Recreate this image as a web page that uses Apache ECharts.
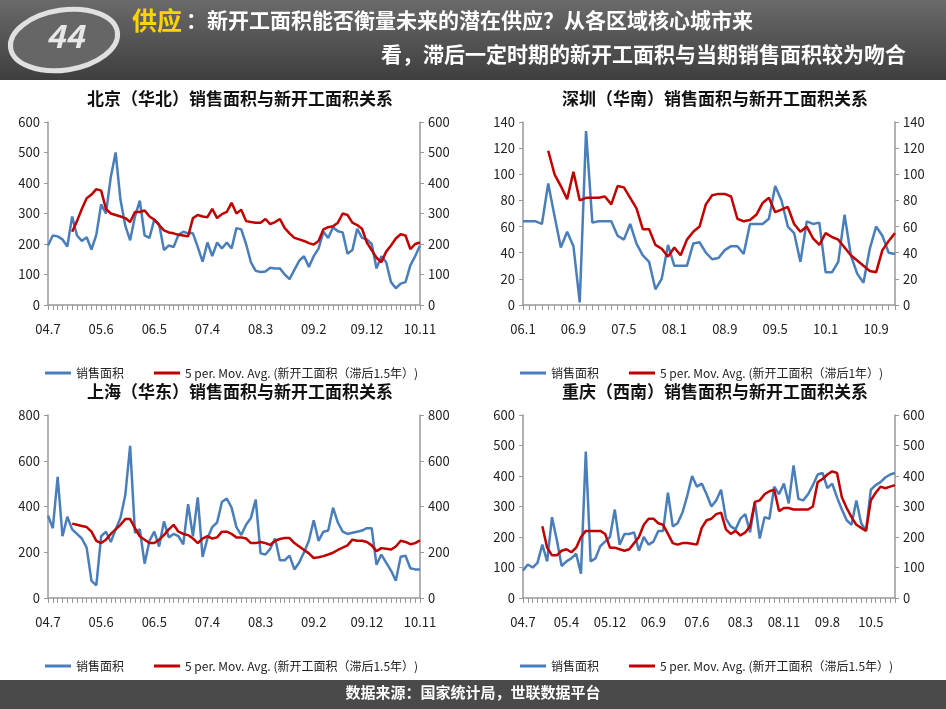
<!DOCTYPE html>
<html><head><meta charset="utf-8">
<script src="https://cdn.jsdelivr.net/npm/echarts@6/dist/echarts.min.js"></script>
<style>html,body{margin:0;padding:0;background:#fff}#c{width:946px;height:709px}</style>
</head><body><div id="c"></div>
<script>
// tick labels (shown every n-th month)
var bjTicks = ['04.7','05.6','06.5','07.4','08.3','09.2','09.12','10.11'];
var szTicks = ['06.1','06.9','07.5','08.1','08.9','09.5','10.1','10.9'];
var cqTicks = ['04.7','05.4','05.12','06.9','07.6','08.3','08.11','09.8','10.5'];

var bjSales = [195,228,225,215,192,290,228,210,222,182,230,330,300,420,500,345,260,212,290,342,228,220,280,265,180,195,190,230,240,235,235,190,142,205,160,205,185,205,185,252,248,200,140,112,108,110,122,120,120,100,85,115,145,160,125,160,185,240,220,255,242,238,168,180,250,220,215,200,120,160,140,75,55,70,75,130,160,195];
var bjStart = [null,null,null,null,null,240,275,315,350,362,380,375,315,300,295,290,285,272,305,305,310,290,280,262,245,238,235,230,228,225,285,295,290,288,315,285,298,305,335,300,312,275,272,270,270,282,265,272,282,252,235,220,215,210,203,198,210,248,255,258,270,300,295,270,262,250,205,180,155,140,175,195,218,232,228,183,200,205];

var szSales = [64,64,64,62,93,68,44,56,45,2,133,63,64,64,64,53,50,62,47,38,33,12,20,46,30,30,30,47,48,40,35,36,42,45,45,39,62,62,62,66,91,80,60,55,33,64,62,63,25,25,33,69,38,24,17,43,60,53,40,39];
var szStart = [null,null,null,null,118,100,91,81,102,80,82,82,82,83,77,91,90,82,74,58,58,46,43,37,44,38,50,56,60,77,84,85,85,83,66,64,65,69,78,82,71,73,75,62,56,60,51,46,55,52,50,44,38,34,30,26,25,42,49,55];

var shSales = [360,305,530,270,355,300,280,260,220,75,55,270,290,245,300,350,450,665,285,300,150,250,290,225,335,265,280,270,235,410,270,440,180,260,310,330,420,435,395,310,275,320,350,430,195,190,215,260,165,165,185,125,155,200,250,340,250,290,295,395,330,290,280,285,290,295,305,305,145,190,155,120,75,180,185,130,125,125];
var shStart = [null,null,null,null,null,325,320,315,310,290,250,240,255,280,300,320,345,345,305,270,255,240,240,255,275,300,320,290,280,275,260,240,260,270,260,265,290,290,280,265,265,260,240,240,245,240,232,250,258,262,262,240,225,210,195,175,178,183,190,198,210,220,230,255,250,250,245,230,205,218,215,212,225,250,245,235,240,252];

var cqSales = [90,110,100,115,175,120,265,190,105,120,130,145,80,480,120,130,170,185,200,290,175,210,210,215,155,200,175,185,220,220,345,235,245,280,335,400,365,375,340,300,320,355,260,235,225,260,275,215,315,195,265,260,365,340,375,310,435,325,320,340,370,405,410,360,375,330,290,255,240,320,245,220,355,370,380,395,405,410];
var cqStart = [null,null,null,null,235,165,140,140,155,160,150,165,200,220,220,220,220,210,165,165,160,155,160,180,200,240,260,260,245,240,210,180,175,180,180,178,175,230,255,260,275,280,225,210,220,205,215,235,315,320,340,350,355,285,295,295,290,290,290,290,300,380,390,405,415,410,330,295,265,240,230,220,320,345,365,360,365,370];

var panels = [
  {title:'北京（华北）销售面积与新开工面积关系', sales:bjSales, start:bjStart, ticks:bjTicks, step:11, max:600, itv:100, lag:'5 per. Mov. Avg. (新开工面积（滞后1.5年）)', l:48, t:122, lx:0, ly:0},
  {title:'深圳（华南）销售面积与新开工面积关系', sales:szSales, start:szStart, ticks:szTicks, step:8, max:140, itv:20, lag:'5 per. Mov. Avg. (新开工面积（滞后1年）)', l:523, t:122, lx:475, ly:0},
  {title:'上海（华东）销售面积与新开工面积关系', sales:shSales, start:shStart, ticks:bjTicks, step:11, max:800, itv:200, lag:'5 per. Mov. Avg. (新开工面积（滞后1.5年）)', l:48, t:415, lx:0, ly:293},
  {title:'重庆（西南）销售面积与新开工面积关系', sales:cqSales, start:cqStart, ticks:cqTicks, step:9, max:600, itv:100, lag:'5 per. Mov. Avg. (新开工面积（滞后1.5年）)', l:523, t:415, lx:475, ly:293}
];

var font = '"Noto Sans CJK SC", sans-serif';
var grid = [], xAxis = [], yAxis = [], series = [], legend = [], title = [];
panels.forEach(function (p, k) {
  var cats = p.sales.map(function (v, i) { return i; });
  grid.push({left:p.l, top:p.t, width:372, height:183});
  title.push({text:p.title, left:p.lx + 235, top:p.ly + 85, textAlign:'center',
    textStyle:{fontFamily:font, fontSize:17, fontWeight:'bold', color:'#111'}});
  xAxis.push({type:'category', gridIndex:k, data:cats, boundaryGap:false,
    axisLine:{lineStyle:{color:'#999', width:1.5}},
    axisTick:{show:true, interval:0, alignWithLabel:true, length:5, lineStyle:{color:'#999'}},
    axisLabel:{interval:function (i) { return i % p.step === 0; }, margin:18, fontSize:13, color:'#222', fontFamily:font,
      formatter:function (v) { return p.ticks[v / p.step] || ''; }}});
  var ya = {type:'value', gridIndex:k, min:0, max:p.max, interval:p.itv, splitLine:{show:false},
    axisLine:{show:true, lineStyle:{color:'#999', width:1.5}},
    axisTick:{show:true, length:4, lineStyle:{color:'#999'}},
    axisLabel:{fontSize:13, color:'#222', fontFamily:font}};
  yAxis.push(Object.assign({}, ya, {position:'left'}));
  yAxis.push(Object.assign({}, ya, {position:'right'}));
  series.push({name:'销售面积', type:'line', xAxisIndex:k, yAxisIndex:2 * k, data:p.sales, showSymbol:false,
    lineStyle:{color:'#4a7ebb', width:2.5}, itemStyle:{color:'#4a7ebb'}});
  series.push({name:p.lag, type:'line', xAxisIndex:k, yAxisIndex:2 * k + 1, data:p.start, showSymbol:false,
    lineStyle:{color:'#c00000', width:2.5}, itemStyle:{color:'#c00000'}});
  legend.push({data:['销售面积', p.lag], left:p.lx + 40, top:p.ly + 362, itemWidth:26, itemHeight:3, itemGap:30,
    icon:'rect', textStyle:{fontFamily:font, fontSize:12, color:'#222'}});
});

var graphic = [
  {type:'rect', left:0, top:0, shape:{width:946, height:80}, style:{fill:new echarts.graphic.LinearGradient(0,0,0,1,[{offset:0,color:'#6a6a6a'},{offset:1,color:'#3e3e3e'}])}},
  {type:'ellipse', shape:{cx:64, cy:40, rx:54, ry:30}, rotation:0.15, originX:64, originY:40, style:{fill:'#666', stroke:'#e0e0e0', lineWidth:5}},
  {type:'text', left:46, top:20, style:{text:'44', fill:'#e8e8e8', font:'italic bold 32px ' + font}},
  {type:'text', left:132, top:8, style:{text:'供应', fill:'#ffd200', font:'bold 25px ' + font}},
  {type:'text', left:186, top:10, style:{text:'：新开工面积能否衡量未来的潜在供应？从各区域核心城市来', fill:'#fff', font:'bold 21px ' + font}},
  {type:'text', right:40, top:44, style:{text:'看，滞后一定时期的新开工面积与当期销售面积较为吻合', fill:'#fff', font:'bold 21px ' + font}},
  {type:'rect', left:0, top:680, shape:{width:946, height:29}, style:{fill:'#4a4a4a'}},
  {type:'text', left:'center', top:685, style:{text:'数据来源：国家统计局，世联数据平台', fill:'#fff', font:'bold 15px ' + font}}
];

var chart = echarts.init(document.getElementById('c'));
chart.setOption({animation:false, backgroundColor:'#fff', title:title, grid:grid, xAxis:xAxis, yAxis:yAxis,
  series:series, legend:legend, graphic:graphic});
</script></body></html>
